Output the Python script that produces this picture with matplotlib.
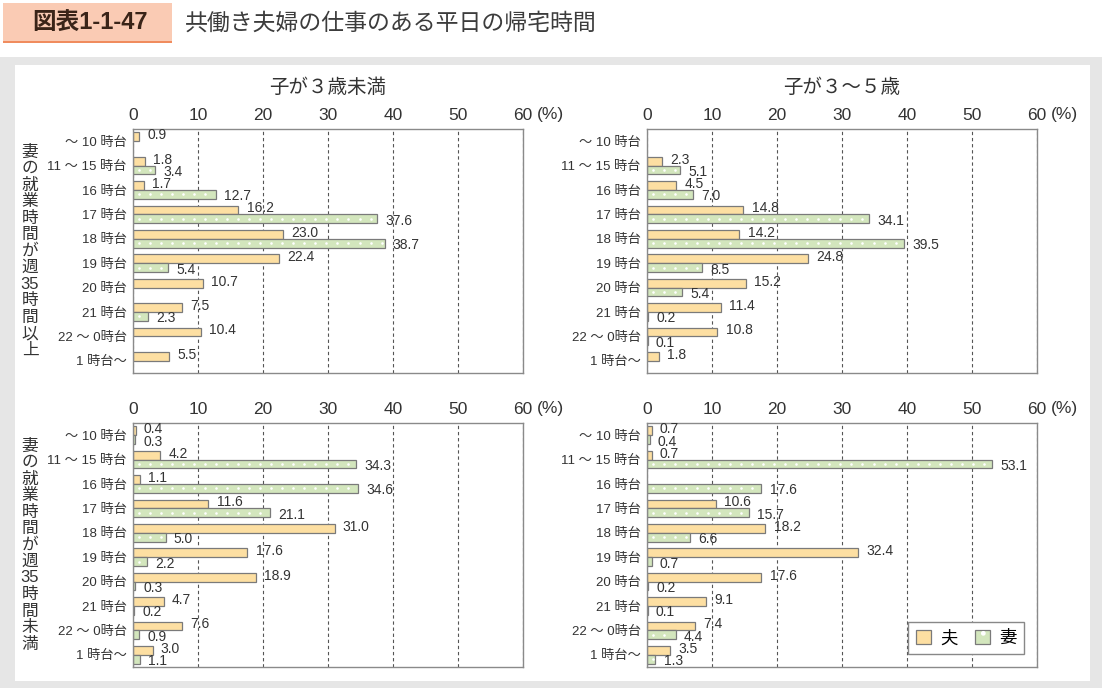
#!/usr/bin/env python3
"""
共働き夫婦の仕事のある平日の帰宅時間 (図表1-1-47) - 4 panel horizontal bar chart.
"""
import numpy as np
import matplotlib
matplotlib.use('Agg')
import matplotlib.pyplot as plt
from matplotlib.patches import Rectangle, Patch

# Helvetica-like digits, CJK glyphs fall back to Noto
plt.rcParams['font.family'] = ['Liberation Sans', 'Noto Sans CJK JP', 'DejaVu Sans']

nan = np.nan

# categories (return-home time)
categories = ['～ 10 時台', '11 ～ 15 時台', '16 時台', '17 時台', '18 時台',
              '19 時台', '20 時台', '21 時台', '22 ～ 0時台', '1 時台～']
x_ticks = [0, 10, 20, 30, 40, 50, 60]
panel_titles = ['子が３歳未満', '子が３～５歳']
series_names = ['夫', '妻']

# wife works 35h+/week
full_u3_husband = [0.9, 1.8, 1.7, 16.2, 23.0, 22.4, 10.7, 7.5, 10.4, 5.5]
full_u3_wife = [nan, 3.4, 12.7, 37.6, 38.7, 5.4, nan, 2.3, nan, nan]
full_35_husband = [nan, 2.3, 4.5, 14.8, 14.2, 24.8, 15.2, 11.4, 10.8, 1.8]
full_35_wife = [nan, 5.1, 7.0, 34.1, 39.5, 8.5, 5.4, 0.2, 0.1, nan]
# wife works under 35h/week
part_u3_husband = [0.4, 4.2, 1.1, 11.6, 31.0, 17.6, 18.9, 4.7, 7.6, 3.0]
part_u3_wife = [0.3, 34.3, 34.6, 21.1, 5.0, 2.2, 0.3, 0.2, 0.9, 1.1]
part_35_husband = [0.7, 0.7, nan, 10.6, 18.2, 32.4, 17.6, 9.1, 7.4, 3.5]
part_35_wife = [0.4, 53.1, 17.6, 15.7, 6.6, 0.7, 0.2, 0.1, 4.4, 1.3]

ORANGE = '#FDDFA2'
GREEN = '#D3E6BD'
EDGE = '#7a7a7a'
TEXT = '#333333'

W, H = 1102, 688


def fx(px):
    return px / W


def fy(py):
    # pixel from top -> figure fraction from bottom
    return 1 - py / H


def draw_panel(ax, husband, wife):
    y = np.arange(len(categories))
    h = np.array(husband, float)
    w = np.array(wife, float)
    bh = 0.36

    mh = ~np.isnan(h)
    mw = ~np.isnan(w)
    ax.barh(y[mh] - bh / 2, h[mh], height=bh, color=ORANGE,
            edgecolor=EDGE, linewidth=0.9, zorder=2)
    ax.barh(y[mw] + bh / 2, w[mw], height=bh, color=GREEN,
            edgecolor=EDGE, linewidth=0.9, zorder=2)

    # white dot texture on wife bars
    step = 1.7
    for yy, v in zip(y[mw] + bh / 2, w[mw]):
        xs = np.arange(step / 2, v - 0.4, step)
        if len(xs):
            ax.scatter(xs, np.full(len(xs), yy), s=3.5, c='white',
                       linewidths=0, zorder=3)

    for yy, v in zip(y[mh] - bh / 2, h[mh]):
        ax.annotate(f'{v:.1f}', (v, yy), xytext=(6, 1.2),
                    textcoords='offset points', ha='left', va='center',
                    fontsize=10, color=TEXT)
    for yy, v in zip(y[mw] + bh / 2, w[mw]):
        ax.annotate(f'{v:.1f}', (v, yy), xytext=(6, -1.5),
                    textcoords='offset points', ha='left', va='center',
                    fontsize=10, color=TEXT)

    ax.set_xlim(0, 60)
    ax.set_ylim(len(categories) - 0.5, -0.5)
    ax.set_xticks(x_ticks)
    ax.xaxis.tick_top()
    ax.tick_params(axis='x', length=0, pad=4, labelsize=12.5,
                   labelcolor=TEXT)
    ax.set_yticks(y)
    ax.set_yticklabels(categories)
    ax.tick_params(axis='y', length=0, pad=4.5, labelsize=9.5,
                   labelcolor=TEXT)
    ax.set_axisbelow(True)
    ax.xaxis.grid(True, linestyle=(0, (3, 2.5)), color='#555555',
                  linewidth=0.8)
    for s in ax.spines.values():
        s.set_color('#8a8a8a')
        s.set_linewidth(1.0)
    # unit beside the 60 tick label
    ax.text(1.036, 1 + 14 / 244, '(%)', transform=ax.transAxes, ha='left',
            va='center', fontsize=12.5, color=TEXT)


fig = plt.figure(figsize=(W / 100, H / 100), dpi=100)

# background frame
fig.patches.append(Rectangle((0, 0), 1, fy(57), transform=fig.transFigure,
                             facecolor='#e6e6e6', edgecolor='none', zorder=-5))
fig.patches.append(Rectangle((fx(15), fy(681)), fx(1090 - 15), (681 - 65) / H,
                             transform=fig.transFigure, facecolor='white',
                             edgecolor='none', zorder=-4))
# header label box
fig.patches.append(Rectangle((fx(3), fy(42)), fx(169), 39 / H,
                             transform=fig.transFigure, facecolor='#FACBB4',
                             edgecolor='none', zorder=-3))
fig.patches.append(Rectangle((fx(3), fy(43)), fx(169), 2 / H,
                             transform=fig.transFigure, facecolor='#F08C5E',
                             edgecolor='none', zorder=-3))
fig.text(fx(90), fy(23), '図表1-1-47', ha='center', va='center',
         fontsize=17, fontweight='bold', color='#3a2418')
fig.text(fx(185), fy(23), '共働き夫婦の仕事のある平日の帰宅時間', ha='left',
         va='center', fontsize=16.5, color='#3c3c3c')

lefts = [133, 647]
tops = [129, 423]
aw, ah = 390, 244
data = [[(full_u3_husband, full_u3_wife), (full_35_husband, full_35_wife)],
        [(part_u3_husband, part_u3_wife), (part_35_husband, part_35_wife)]]

axes = []
for r in range(2):
    for c in range(2):
        ax = fig.add_axes([fx(lefts[c]), fy(tops[r] + ah), fx(aw), ah / H])
        draw_panel(ax, *data[r][c])
        if r == 0:
            ax.text(0.5, 1 + (tops[r] - 88) / ah, panel_titles[c],
                    transform=ax.transAxes, ha='center', va='center',
                    fontsize=14, color=TEXT)
        axes.append(ax)

# vertical group labels
for r in range(2):
    chars = ['妻', 'の', '就', '業', '時', '間', 'が', '週', '35', '時', '間',
             '以' if r == 0 else '未', '上' if r == 0 else '満']
    mid = tops[r] + ah / 2
    sp = 16.5
    for i, ch in enumerate(chars):
        yy = mid + (i - (len(chars) - 1) / 2) * sp
        fig.text(fx(30), fy(yy), ch, ha='center', va='center',
                 fontsize=12, color=TEXT)

# legend in the bottom-right panel
h1 = Patch(facecolor=ORANGE, edgecolor=EDGE, linewidth=0.9)
h2 = (Patch(facecolor=GREEN, edgecolor=EDGE, linewidth=0.9),
      Patch(facecolor='none', edgecolor='white', hatch='.', linewidth=0))
leg = axes[3].legend([h1, h2], series_names, loc='lower right',
                     bbox_to_anchor=(0.967, 0.053), borderaxespad=0,
                     ncol=2, fancybox=False, edgecolor='#888888',
                     fontsize=12.5, handlelength=0.9, handleheight=0.9,
                     handletextpad=0.5, columnspacing=1.0, borderpad=0.45,
                     framealpha=1)
leg.get_frame().set_linewidth(1.0)

fig.savefig('out.png', dpi=100)
